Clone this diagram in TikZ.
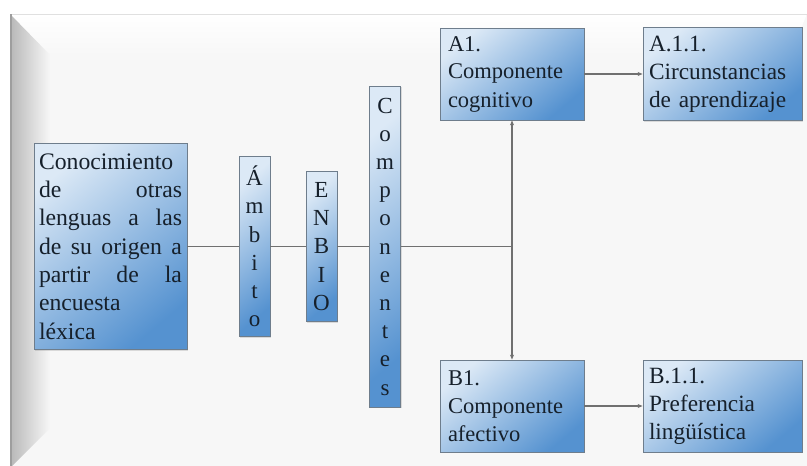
\documentclass[tikz,border=0pt]{standalone}
\usepackage{fontspec}
\setmainfont{Liberation Serif}
\usetikzlibrary{arrows.meta,calc,positioning,shadows}
\definecolor{boxlight}{HTML}{DCE9F6}
\definecolor{boxdark}{HTML}{5592D0}
\definecolor{boxline}{HTML}{6E7D8C}
\definecolor{txt}{HTML}{16202B}
\definecolor{conn}{HTML}{707070}
\definecolor{pagebg}{HTML}{F7F7F7}
\tikzset{
	thick,
	box/.style = {rectangle, draw=boxline, line width=0.8pt,
	 top color=boxlight, bottom color=boxdark, shading angle=40,
	 text=txt, font=\fontsize{22.5}{28}\selectfont,
	 drop shadow={shadow xshift=1pt, shadow yshift=-1.2pt, opacity=0.25}},
	txtbox/.style = {box, align=left, inner ysep=4pt},
	vbox/.style = {box, align=center, inner sep=2pt, minimum width=31,
	 font=\fontsize{23}{28.2}\selectfont},
	line/.style = {draw=conn, line width=1.2pt},
	arr/.style = {line, -{Stealth[length=5pt,width=4pt]}},
}
\newcommand{\jline}[1]{\makebox[143pt]{#1}}

\begin{document}
\begin{tikzpicture}[x=1pt,y=-1pt]
    \useasboundingbox (0,0) rectangle (807,466);
    % background panel
    \fill[white] (0,0) rectangle (807,466);
    \fill[pagebg] (10,14) rectangle (807,470);
    \shade[top color=white, bottom color=pagebg] (10,14) -- (807,14) -- (790,55) -- (50,55) -- cycle;
    \shade[left color=black!28, right color=pagebg] (10,14) -- (50,55) -- (50,428) -- (10,468) -- cycle;
    \draw[black!12, line width=0.8pt] (10,14) -- (807,14);
    \draw[black!38, line width=1.5pt] (11,14) -- (11,466);

    \node[txtbox, text width=143, inner xsep=5pt, minimum height=206,
      font=\fontsize{23.7}{28.3}\selectfont] (conoc) at (110.5,246.5)
    {Conocimiento\\
     \jline{de\hfill otras}\\
     \jline{lenguas\hfill a\hfill las}\\
     \jline{de\hfill su\hfill origen\hfill a}\\
     \jline{partir\hfill de\hfill la}\\
     encuesta\\
     léxica};
    \node[vbox, minimum height=180] (ambito) at (254.5,246.5) {Á\\m\\b\\i\\t\\o};
    \node[vbox, minimum height=150] (enbio) at (321.5,246.5) {E\\N\\B\\I\\O};
    \node[vbox, minimum height=321] (comp) at (385,246.5) {C\\o\\m\\p\\o\\n\\e\\n\\t\\e\\s};

    \node[txtbox, text width=128, inner xsep=8pt, minimum height=92] (a1) at (512,74)
    {A1.\\Componente\\cognitivo};
    \node[txtbox, text width=147, inner xsep=6pt, minimum height=93,
      font=\fontsize{23.3}{28}\selectfont] (a11) at (722.5,74)
    {A.1.1.\\Circunstancias\\de aprendizaje};
    \node[txtbox, text width=128, inner xsep=8pt, minimum height=92] (b1) at (512,406)
    {B1.\\Componente\\afectivo};
    \node[txtbox, text width=147, inner xsep=6pt, minimum height=92,
      font=\fontsize{23.3}{28}\selectfont] (b11) at (722.5,406)
    {B.1.1.\\Preferencia\\lingüística};

    \coordinate (junc) at (512,246.5);

    \draw[line] (conoc) -- (ambito);
    \draw[line] (ambito) -- (enbio);
    \draw[line] (enbio) -- (comp);
    \draw[line] (comp) -- (junc);
    \draw[arr] (junc) -- (a1);
    \draw[arr] (junc) -- (b1);
    \draw[arr] (a1) -- (a11);
    \draw[arr] (b1) -- (b11);
\end{tikzpicture}
\end{document}
